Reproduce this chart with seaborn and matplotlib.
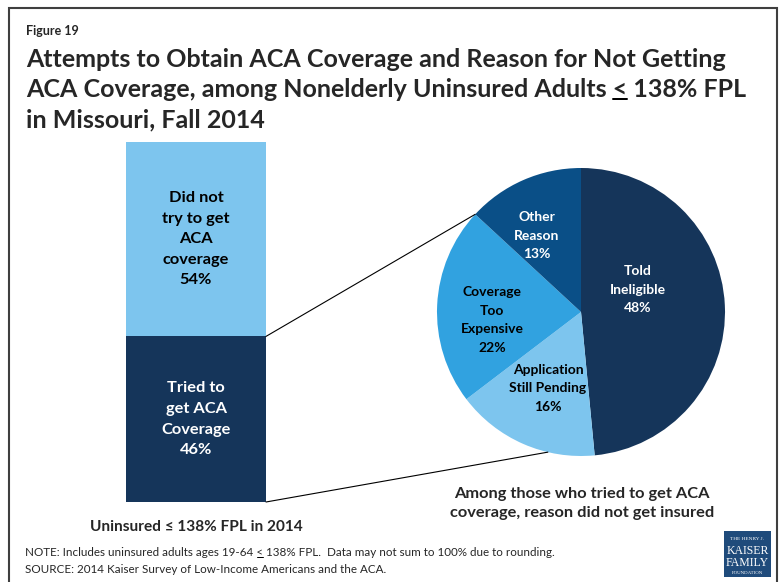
import matplotlib
matplotlib.use("Agg")
import matplotlib.pyplot as plt
import seaborn as sns
import pandas as pd
import numpy as np
from matplotlib.patches import Rectangle
from matplotlib.lines import Line2D

# ---- data ----
bar_categories = ["Tried to\nget ACA\nCoverage", "Did not\ntry to get\nACA\ncoverage"]
bar_values = [46, 54]
bar_colors = ["#15355A", "#7DC5EE"]
bar_text_colors = ["white", "black"]

reason_labels = ["Told\nIneligible", "Application\nStill Pending", "Coverage\nToo\nExpensive", "Other\nReason"]
reason_values = [48, 16, 22, 13]
reason_colors = ["#15355A", "#7DC5EE", "#31A2E0", "#0A4F87"]
reason_text_colors = ["white", "black", "black", "white"]
# label anchor positions inside the pie (axes units, radius = 1)
reason_label_xy = [(0.396, 0.153), (-0.229, -0.528), (-0.618, -0.056), (-0.306, 0.528)]

W, H = 783, 582
sns.set_theme(style="white")
plt.rcParams["font.family"] = ["Lato", "DejaVu Sans"]

fig = plt.figure(figsize=(W / 100, H / 100), dpi=100)
fig.patch.set_facecolor("white")


def fx(px):
    return px / W


def fy(py):
    return 1 - py / H


# ---- frame ----
fig.add_artist(Rectangle((fx(9), fy(640)), (777 - 9) / W, (640 - 8) / H,
                         transform=fig.transFigure, fill=False,
                         edgecolor="#3F3F3F", linewidth=1.5))

# ---- headings ----
fig.text(fx(26), fy(35), "Figure 19", fontsize=9, fontweight="bold", va="baseline")
title_lines = [
    "Attempts to Obtain ACA Coverage and Reason for Not Getting",
    "ACA Coverage, among Nonelderly Uninsured Adults < 138% FPL",
    "in Missouri, Fall 2014",
]
title_base = [67, 97, 127]
title_props = dict(fontsize=18, fontweight="bold", va="baseline")
title_texts = [fig.text(fx(26), fy(b), s, **title_props) for s, b in zip(title_lines, title_base)]


def underline_char(x_px, base_px, full, idx, props, lw):
    """Draw a short rule under character idx of a left-aligned string."""
    renderer = fig.canvas.get_renderer()
    tmp = fig.text(fx(x_px), fy(base_px), full[:idx] + ".", **props)
    w_pre = tmp.get_window_extent(renderer).width
    tmp.set_text(".")
    w_dot = tmp.get_window_extent(renderer).width
    tmp.set_text(full[:idx + 1] + ".")
    w_full = tmp.get_window_extent(renderer).width
    tmp.remove()
    x0 = x_px + w_pre - w_dot
    x1 = x_px + w_full - w_dot
    y = base_px + lw * 0.9
    fig.add_artist(Line2D([fx(x0 + 0.5), fx(x1 - 0.5)], [fy(y), fy(y)],
                          transform=fig.transFigure, color="black", linewidth=lw * 0.72))


underline_char(26, 97, title_lines[1], title_lines[1].index("<"), title_props, 2.0)

# ---- stacked bar ----
bar_ax = fig.add_axes([fx(126), fy(502), (266 - 126) / W, (502 - 142) / H])
df_bar = pd.DataFrame({"group": ["Uninsured"],
                       "total": [sum(bar_values)],
                       "tried": [bar_values[0]]})
sns.barplot(data=df_bar, x="group", y="total", color=bar_colors[1], width=1,
            saturation=1, ax=bar_ax, linewidth=0)
sns.barplot(data=df_bar, x="group", y="tried", color=bar_colors[0], width=1,
            saturation=1, ax=bar_ax, linewidth=0)
bar_ax.set_xlim(-0.5, 0.5)
bar_ax.set_ylim(0, sum(bar_values))
bar_ax.axis("off")

bottom = 0
for cat, val, tc in zip(bar_categories, bar_values, bar_text_colors):
    bar_ax.text(0, bottom + val / 2, f"{cat}\n{val}%", ha="center", va="center",
                color=tc, fontsize=11.8, fontweight="bold", linespacing=1.6)
    bottom += val

fig.text(fx(196), fy(531), "Uninsured \u2264 138% FPL in 2014", ha="center",
         va="baseline", fontsize=11.1, fontweight="bold")

# ---- pie ----
cx, cy, r = 581, 312, 144
pie_ax = fig.add_axes([fx(cx - r), fy(cy + r), 2 * r / W, 2 * r / H])
pie_ax.pie(reason_values, colors=reason_colors, startangle=90, counterclock=False,
           radius=1, wedgeprops=dict(linewidth=0))
pie_ax.set_xlim(-1, 1)
pie_ax.set_ylim(-1, 1)
pie_ax.set_aspect("equal")
pie_ax.axis("off")

for lab, val, tc, (lx, ly) in zip(reason_labels, reason_values, reason_text_colors, reason_label_xy):
    pie_ax.text(lx, ly, f"{lab}\n{val}%", ha="center", va="center", color=tc,
                fontsize=10, fontweight="bold", linespacing=1.65)

fig.text(fx(582), fy(498), "Among those who tried to get ACA", ha="center",
         va="baseline", fontsize=11.8, fontweight="bold")
fig.text(fx(582), fy(517), "coverage, reason did not get insured", ha="center",
         va="baseline", fontsize=11.8, fontweight="bold")

# ---- connectors from the "tried" segment to the pie ----
frac = np.cumsum(reason_values) / sum(reason_values)
theta_top = np.deg2rad(90 - 360 * frac[2])      # edge between "Too Expensive" and "Other"
theta_bottom = np.deg2rad(-103.3)               # lower rim point of the pie
to_fig = fig.transFigure.inverted()
for (bx, by), th in [((0.5, bar_values[0]), theta_top), ((0.5, 0), theta_bottom)]:
    p0 = to_fig.transform(bar_ax.transData.transform((bx, by)))
    p1 = to_fig.transform(pie_ax.transData.transform((np.cos(th), np.sin(th))))
    fig.add_artist(Line2D([p0[0], p1[0]], [p0[1], p1[1]], transform=fig.transFigure,
                          color="black", linewidth=0.8))

# ---- notes ----
note = "NOTE: Includes uninsured adults ages 19-64 < 138% FPL.  Data may not sum to 100% due to rounding."
note_props = dict(fontsize=8.4, va="baseline")
fig.text(fx(25), fy(556), note, **note_props)
underline_char(25, 556, note, note.index("<"), note_props, 1.0)
fig.text(fx(25), fy(573), "SOURCE: 2014 Kaiser Survey of Low-Income Americans and the ACA.", **note_props)

# ---- foundation mark ----
fig.add_artist(Rectangle((fx(724), fy(577)), 47 / W, 46 / H, transform=fig.transFigure,
                         facecolor="#1F4B7B", edgecolor="none"))
serif = ["Liberation Serif", "DejaVu Serif"]
fig.text(fx(747.5), fy(539), "THE HENRY J.", ha="center", va="center", color="white",
         fontsize=3.8, family=serif)
fig.text(fx(747.5), fy(551), "KAISER", ha="center", va="center", color="white",
         fontsize=8.5, family=serif)
fig.text(fx(747.5), fy(563), "FAMILY", ha="center", va="center", color="white",
         fontsize=8.5, family=serif)
fig.text(fx(747.5), fy(573), "FOUNDATION", ha="center", va="center", color="white",
         fontsize=3.5, family=serif)

fig.savefig("out.png", dpi=100, facecolor="white")
